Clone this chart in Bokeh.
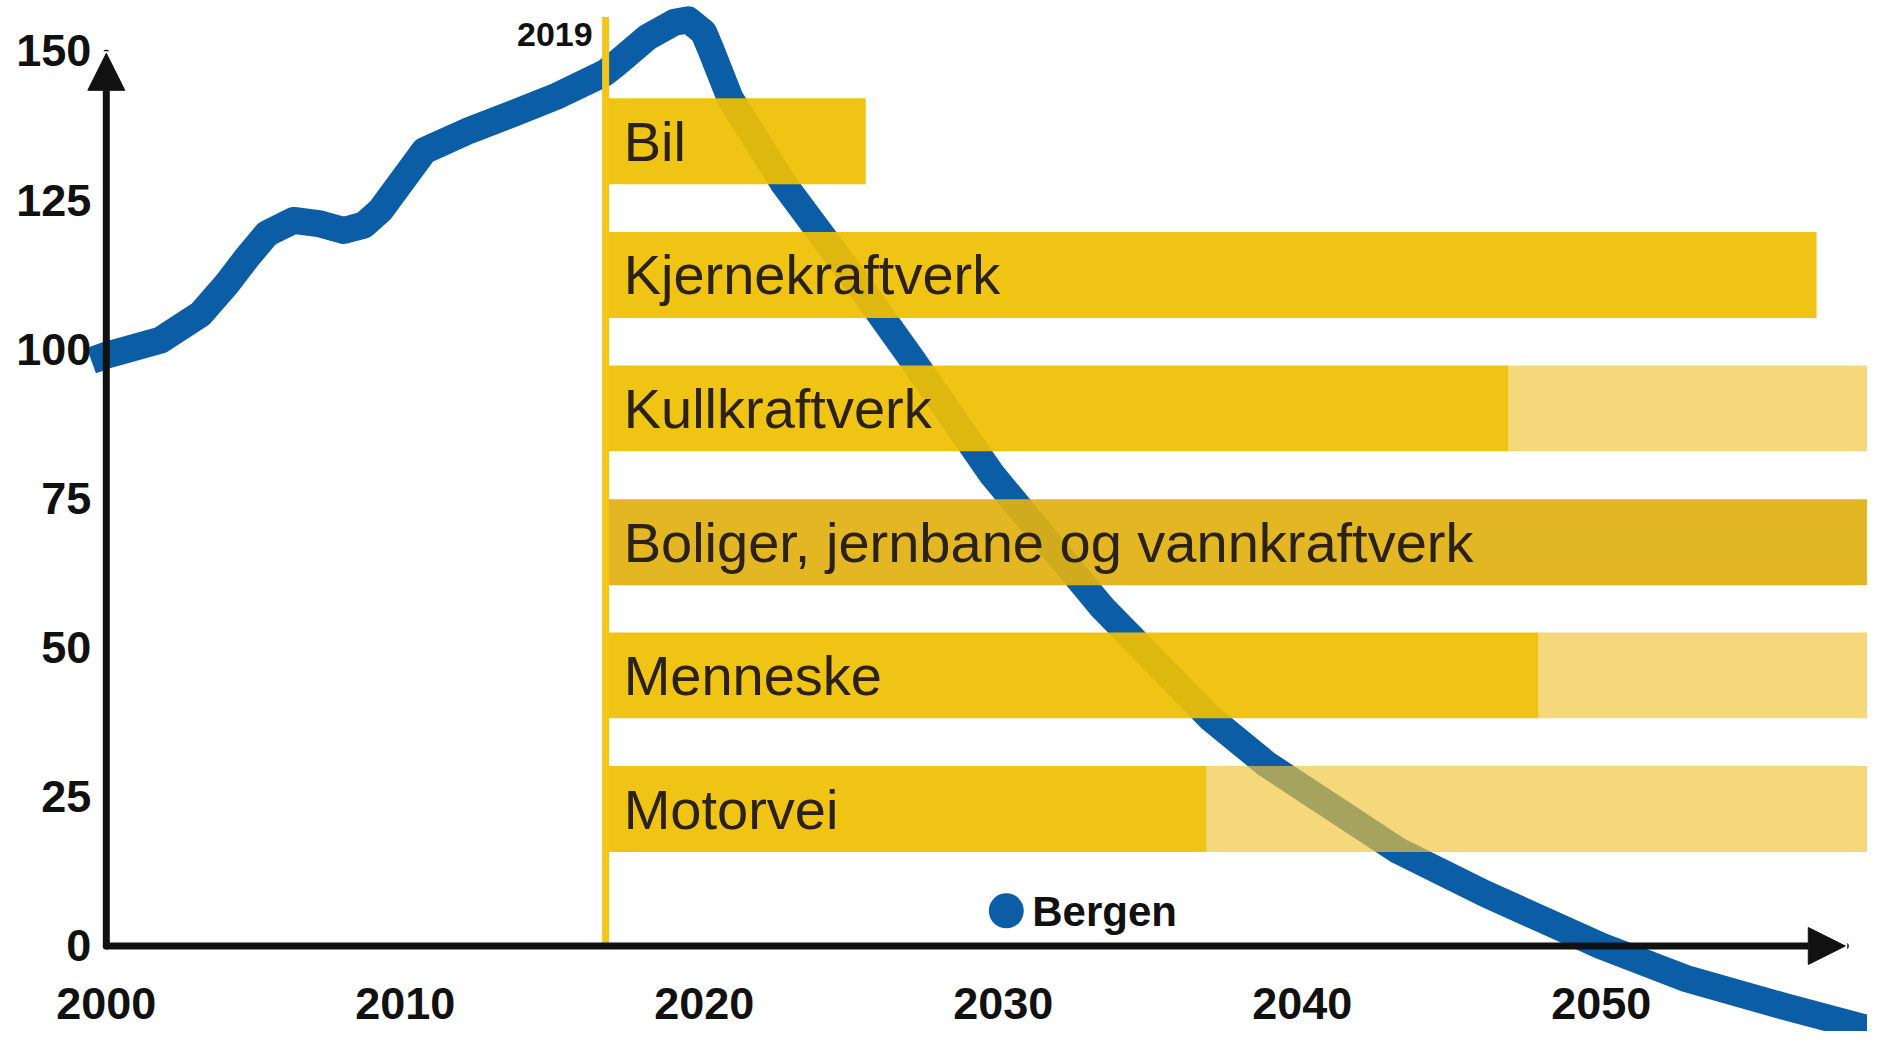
from bokeh.plotting import figure
from bokeh.models import Range1d, LinearAxis, FixedTicker, Arrow, NormalHead, ColumnDataSource
from bokeh.core.properties import value
from bokeh.embed import file_html
from bokeh.resources import INLINE

# ---------------- data ----------------
curve_years = [1999.5, 2000.0, 2001.8, 2003.15, 2004.04, 2004.71, 2005.38, 2006.27, 2007.16,
               2007.94, 2008.61, 2009.17, 2010.64, 2012.15, 2013.6, 2015.1, 2016.67, 2017.0,
               2018.1, 2019.0, 2019.47, 2019.98, 2020.23, 2020.87, 2022.66, 2025.3, 2026.9,
               2029.64, 2033.3, 2036.9, 2038.8, 2043.2, 2046.1, 2050.0, 2052.8, 2056.1, 2059.4]
curve_values = [98.1, 99.0, 101.5, 105.9, 111.0, 115.4, 119.4, 121.6, 121.0,
                119.9, 120.8, 123.3, 133.3, 136.7, 139.5, 142.5, 146.3, 147.6,
                152.3, 154.8, 155.2, 153.1, 150.1, 142.0, 127.7, 109.9, 98.7,
                78.9, 56.8, 38.3, 30.5, 16.0, 8.8, 0.0, -5.4, -10.1, -14.5]

x_ticks = [2000, 2010, 2020, 2030, 2040, 2050]
x_tick_labels = ["2000", "2010", "2020", "2030", "2040", "2050"]
y_ticks = [0, 25, 50, 75, 100, 125, 150]

bar_labels = ["Bil", "Kjernekraftverk", "Kullkraftverk",
              "Boliger, jernbane og vannkraftverk", "Menneske", "Motorvei"]
bar_centers = [134.85, 112.45, 90.1, 67.65, 45.35, 22.95]
bar_start = 2016.7
solid_end = [2025.4, 2057.2, 2046.9, 2060.0, 2047.9, 2036.8]
faded_end = [2025.4, 2057.2, 2060.0, 2060.0, 2060.0, 2060.0]

marker_year = 2016.7
marker_top = 155.7
marker_label = "2019"

legend_label = "Bergen"
legend_x = 2030.1
legend_y = 5.9

x_axis_end = 2058.16
y_axis_end = 149.6

# ---------------- styles ----------------
BLUE = "#0B5EA6"
INK = "#111111"
BAR_H = 14.4
solid_colors = ["#EFC002", "#EFC002", "#EFC002", "#E0B112", "#EFC002", "#EFC002"]
FADED = "#F0C43E"

p = figure(width=1867, height=1031,
           x_range=Range1d(1996.4615, 2058.903), y_range=Range1d(-14.33, 158.45),
           output_backend="svg", toolbar_location=None,
           x_axis_location=None, y_axis_location=None, min_border=0)
p.outline_line_color = None
p.grid.grid_line_color = None
p.background_fill_color = "white"
p.border_fill_color = "white"

# curve
p.line(curve_years, curve_values, line_width=27, line_color=BLUE,
       line_join="round", line_cap="butt")

# bars
src = ColumnDataSource(dict(y=bar_centers, start=[bar_start] * len(bar_centers),
                            solid=solid_end, faded=faded_end, color=solid_colors,
                            label=bar_labels))
p.hbar(y="y", left="solid", right="faded", height=BAR_H, source=src,
       fill_color=FADED, fill_alpha=0.68, line_color=None)
p.hbar(y="y", left="start", right="solid", height=BAR_H, source=src,
       fill_color="color", fill_alpha=0.93, line_color=None)

# 2019 marker
p.segment(x0=[marker_year], y0=[0], x1=[marker_year], y1=[marker_top],
          line_width=7, line_color="#F2C51A")
p.text(x=[marker_year], y=[marker_top], text=[marker_label], text_align="right",
       text_baseline="top", x_offset=-13, y_offset=6, text_font=value("Liberation Sans"),
       text_font_style="bold", text_font_size="34px", text_color=INK)

# bar labels
p.text(x="start", y="y", text="label", source=src, x_offset=18,
       text_align="left", text_baseline="middle",
       text_font=value("Liberation Sans"), text_font_size="56px", text_color="#2B2117")

# legend
p.scatter(x=[legend_x], y=[legend_y], size=35, fill_color=BLUE, line_color=None)
p.text(x=[legend_x], y=[legend_y], text=[legend_label], x_offset=26,
       text_align="left", text_baseline="middle", y_offset=1,
       text_font=value("Liberation Sans"), text_font_style="bold",
       text_font_size="42px", text_color=INK)

# y axis labels (axis fixed at the year 2000)
yaxis = LinearAxis(fixed_location=2000, ticker=FixedTicker(ticks=y_ticks))
yaxis.axis_line_color = None
yaxis.major_tick_line_color = None
yaxis.minor_tick_line_color = None
yaxis.major_tick_out = 0
yaxis.major_tick_in = 0
yaxis.major_label_standoff = 15
yaxis.major_label_text_font = "Liberation Sans"
yaxis.major_label_text_font_style = "bold"
yaxis.major_label_text_font_size = "45px"
yaxis.major_label_text_color = INK
p.add_layout(yaxis, "left")

# x tick labels below the zero line
p.text(x=x_ticks, y=[0] * len(x_ticks), text=x_tick_labels, text_align="center",
       text_baseline="top", y_offset=42, text_font=value("Liberation Sans"),
       text_font_style="bold", text_font_size="45px", text_color=INK)

# axis arrows
p.add_layout(Arrow(end=NormalHead(size=37, fill_color=INK, line_color=INK, line_width=1),
                   x_start=2000, y_start=0, x_end=x_axis_end, y_end=0,
                   line_width=7, line_color=INK, line_cap="round"))
p.add_layout(Arrow(end=NormalHead(size=37, fill_color=INK, line_color=INK, line_width=1),
                   x_start=2000, y_start=0, x_end=2000, y_end=y_axis_end,
                   line_width=7, line_color=INK, line_cap="round"))

open("out.html", "w").write(file_html(p, INLINE))
